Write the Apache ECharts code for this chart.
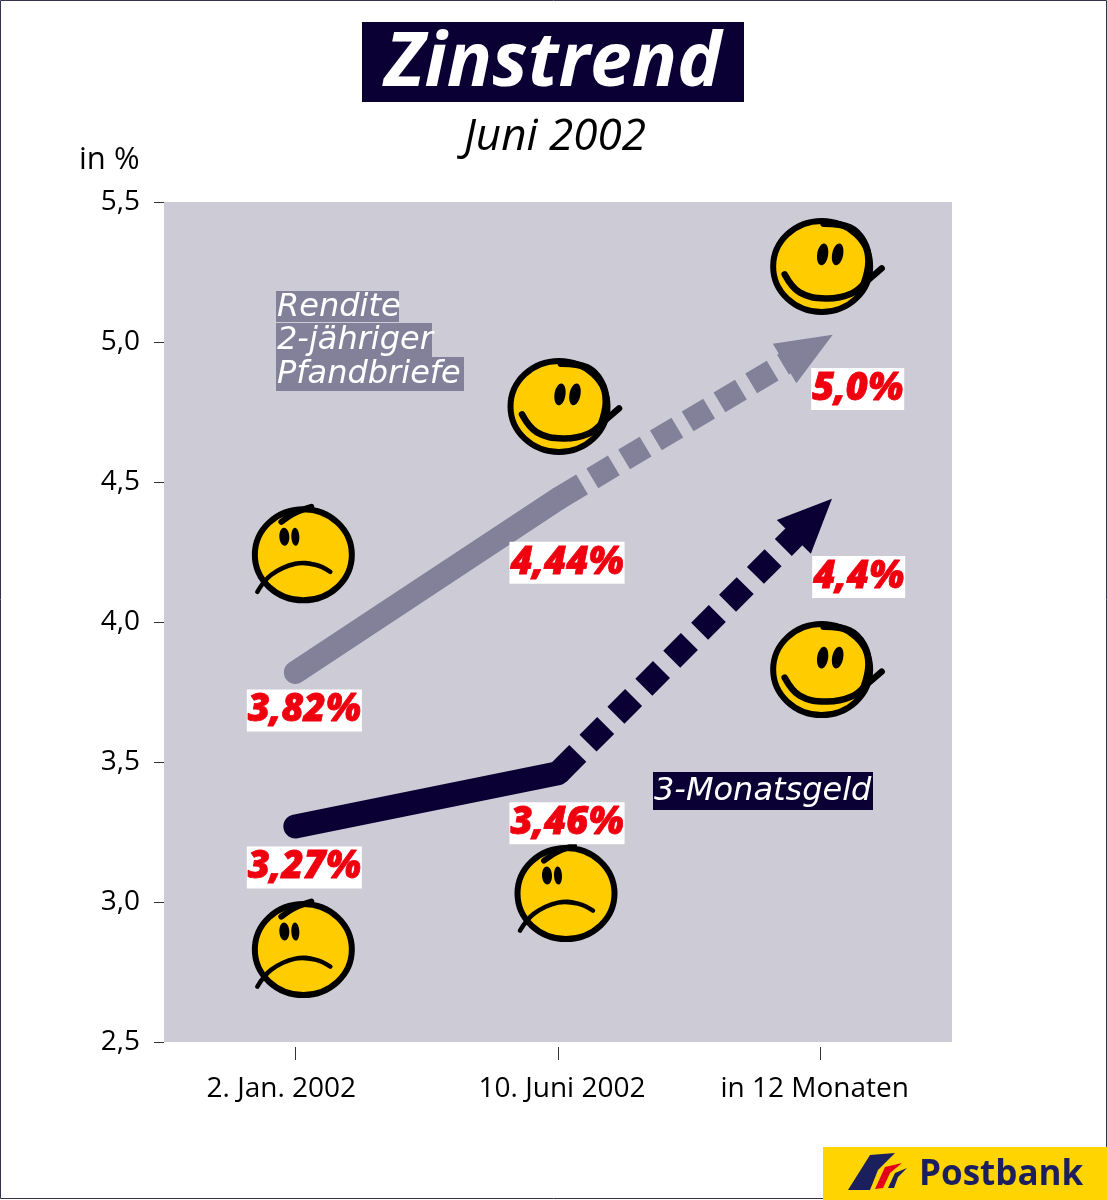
<!DOCTYPE html>
<html><head><meta charset="utf-8">
<style>html,body{margin:0;padding:0;background:#fff}#c{width:1107px;height:1200px}</style>
<script src="https://cdn.jsdelivr.net/npm/echarts@6/dist/echarts.min.js"></script>
</head><body><div id="c"></div>
<script>
const categories = ['2. Jan. 2002', '10. Juni 2002', 'in 12 Monaten'];
const pfandbriefe = [3.82, 4.44, 5.0];
const geld = [3.27, 3.46, 4.4];
const pfandLabels = ['3,82%', '4,44%', '5,0%'];
const geldLabels = ['3,27%', '3,46%', '4,4%'];
const smileyPoints = [[0, 4.24], [1, 4.77], [2, 5.27], [0, 2.83], [1, 3.03], [2, 3.83]];
const smileyMoods = ['sad', 'happy', 'happy', 'sad', 'sad', 'happy'];
const yTicks = [2.5, 3.0, 3.5, 4.0, 4.5, 5.0, 5.5];

const DARK = '#0A0033', GREY = '#83819A', RED = '#F0000F', YEL = '#FFCC00', BG = '#CCCBD6';
const FONT = '"Open Sans", "Noto Sans", sans-serif';

function arrowSeries(name, vals, color, width, dash, gap, headLen, headHalf, tipExt) {
  return {
    name, type: 'custom', coordinateSystem: 'cartesian2d', z: 4,
    data: vals.map((v, i) => [i, v]),
    renderItem(params, api) {
      if (params.dataIndex !== 2) return null;
      const a = api.coord([1, vals[1]]), b = api.coord([2, vals[2]]);
      const dx = b[0] - a[0], dy = b[1] - a[1], L = Math.hypot(dx, dy);
      const ux = dx / L, uy = dy / L;
      const at = d => [a[0] + ux * d, a[1] + uy * d];
      const solidEnd = 28, total = L + tipExt, base = total - headLen;
      const perp = (p, s) => [p[0] - uy * s, p[1] + ux * s];
      const bp = at(base), neck = at(base + 5);
      return { type: 'group', children: [
        { type: 'polyline', shape: { points: [a, at(solidEnd)] }, style: { stroke: color, lineWidth: width, fill: null } },
        { type: 'polyline', shape: { points: [at(solidEnd + gap), neck] },
          style: { stroke: color, lineWidth: width, fill: null, lineDash: [dash, gap] } },
        { type: 'polygon', shape: { points: [at(total), perp(bp, headHalf), perp(bp, -headHalf)] }, style: { fill: color } }
      ] };
    }
  };
}

function labelSeries(name, vals, labels, offs) {
  return {
    name, type: 'custom', coordinateSystem: 'cartesian2d', z: 6,
    data: vals.map((v, i) => [i, v]),
    renderItem(params, api) {
      const i = params.dataIndex;
      const p = api.coord([api.value(0), api.value(1)]);
      return { type: 'text', x: p[0] + offs[i][0], y: p[1] + offs[i][1], style: {
        text: labels[i], fill: RED, font: 'italic 800 38px ' + FONT,
        stroke: RED, lineWidth: 0.8, align: 'center', verticalAlign: 'middle',
        backgroundColor: '#fff', padding: [3, 1, 1, 1]
      } };
    }
  };
}

function smiley(params, api) {
  const p = api.coord([api.value(0), api.value(1)]);
  const mood = smileyMoods[params.dataIndex];
  const line = (pts, w) => ({ type: 'polyline', shape: { points: pts, smooth: 0.4 },
    style: { stroke: '#000', lineWidth: w, fill: null, lineCap: 'round' } });
  const eye = (x, y, rx, ry, rot) => ({ type: 'ellipse', x, y, rotation: rot, shape: { cx: 0, cy: 0, rx, ry }, style: { fill: '#000' } });
  const face = { type: 'ellipse', shape: { cx: 0, cy: 0, rx: 48.5, ry: 45.5 }, style: { fill: YEL, stroke: '#000', lineWidth: 6 } };
  const kids = mood === 'sad' ? [
    face,
    eye(-19, -18, 5, 9, 0.05), eye(-8, -18, 4, 9, 0.05),
    line([[-46, 37], [-32, 20], [-8, 9], [12, 10], [27, 17]], 4.5),
    line([[-22, -33], [-8, -42], [8, -48]], 6)
  ] : [
    face,
    eye(1, -12, 5.5, 11, -0.15), eye(16, -12, 5.5, 11, -0.2),
    line([[-37, 8], [-22, 26], [4, 32], [30, 27], [46, 14], [60, 2]], 6.5),
    line([[2, -43], [28, -39], [42, -25], [47, -5], [42, 18]], 7)
  ];
  return { type: 'group', x: p[0] + (mood === 'sad' ? 8 : 1), y: p[1], children: kids };
}

function boxText(text, x, y, w, h, bg, font, fill, cx, dy) {
  return [
    { type: 'rect', shape: { x, y, width: w, height: h }, style: { fill: bg }, z: 10 },
    { type: 'text', x: cx === undefined ? x + 1 : cx, y: y + h / 2 + (dy || 0), z: 11,
      style: { text, font, fill, align: cx === undefined ? 'left' : 'center', verticalAlign: 'middle' } }
  ];
}

const LEG = 'italic 400 32px "DejaVu Sans", sans-serif';
const xPads = { '2. Jan. 2002': [0, 28, 0, 0], '10. Juni 2002': [0, 0, 0, 8], 'in 12 Monaten': [0, 12, 0, 0] };
const chart = echarts.init(document.getElementById('c'), null, { renderer: 'canvas' });
chart.setOption({
  animation: false,
  backgroundColor: '#fff',
  grid: { left: 164, top: 202, width: 788, height: 840, show: true, backgroundColor: BG, borderWidth: 0 },
  xAxis: {
    type: 'category', data: categories, offset: 5,
    axisLine: { show: false },
    axisTick: { show: true, alignWithLabel: true, interval: 0, length: 13, lineStyle: { color: '#333', width: 1 } },
    axisLabel: { color: '#000', fontFamily: FONT, fontSize: 28, margin: 28, interval: 0, hideOverlap: false,
      formatter: v => '{' + ['a', 'b', 'c'][categories.indexOf(v)] + '|' + v + '}',
      rich: {
        a: { fontFamily: FONT, fontSize: 28, color: '#000', padding: xPads[categories[0]] },
        b: { fontFamily: FONT, fontSize: 28, color: '#000', padding: xPads[categories[1]] },
        c: { fontFamily: FONT, fontSize: 28, color: '#000', padding: xPads[categories[2]] }
      } },
    splitLine: { show: false }
  },
  yAxis: {
    type: 'value', min: 2.5, max: 5.5, interval: 0.5,
    axisLine: { show: false },
    axisTick: { show: true, length: 10, lineStyle: { color: '#333', width: 1 } },
    axisLabel: { color: '#000', fontFamily: FONT, fontSize: 28, margin: 24, padding: [6, 0, 0, 0],
      formatter: v => yTicks.includes(v) ? v.toFixed(1).replace('.', ',') : '' },
    splitLine: { show: false }
  },
  series: [
    { name: 'Rendite 2-jähriger Pfandbriefe', type: 'line', z: 3, symbol: 'none',
      data: [pfandbriefe[0], pfandbriefe[1], null],
      lineStyle: { color: GREY, width: 23, cap: 'round', join: 'round' } },
    { name: '3-Monatsgeld', type: 'line', z: 3, symbol: 'none',
      data: [geld[0], geld[1], null],
      lineStyle: { color: DARK, width: 24, cap: 'round', join: 'round' } },
    arrowSeries('Pfandbriefe Prognose', pfandbriefe, GREY, 23, 25, 12, 56, 23, 14),
    arrowSeries('3-Monatsgeld Prognose', geld, DARK, 24, 25, 14.5, 54, 24, 16),
    labelSeries('Pfandbriefe Werte', pfandbriefe, pfandLabels, [[9, 38], [9, 64], [37, 47]]),
    labelSeries('3-Monatsgeld Werte', geld, geldLabels, [[9, 41], [9, 50], [38, 67]]),
    { name: 'Smileys', type: 'custom', coordinateSystem: 'cartesian2d', z: 5,
      data: smileyPoints, renderItem: smiley }
  ],
  graphic: { elements: [
    { type: 'rect', shape: { x: 0.5, y: 0.5, width: 1106, height: 1198 }, style: { fill: null, stroke: '#33334D', lineWidth: 1 }, z: 1 },
    ...boxText('Zinstrend', 362, 22, 382, 80, DARK, 'italic 700 75px ' + FONT, '#fff', 553, 3),
    { type: 'text', x: 555, y: 137, z: 11, style: { text: 'Juni 2002', font: 'italic 400 44px ' + FONT, fill: '#000', align: 'center', verticalAlign: 'middle' } },
    { type: 'text', x: 79, y: 160, z: 11, style: { text: 'in %', font: '400 31px ' + FONT, fill: '#000', align: 'left', verticalAlign: 'middle' } },
    ...boxText('Rendite', 276, 291, 123, 31, GREY, LEG, '#fff', undefined, 1),
    ...boxText('2-jähriger', 276, 323, 156, 34, GREY, LEG, '#fff', undefined, 1),
    ...boxText('Pfandbriefe', 276, 357, 188, 34, GREY, LEG, '#fff', undefined, 1),
    ...boxText('3-Monatsgeld', 653, 772, 220, 38, DARK, LEG, '#fff', undefined, 1),
    { type: 'rect', shape: { x: 823, y: 1147, width: 284, height: 53 }, style: { fill: '#FFD400' }, z: 10 },
    { type: 'polygon', shape: { points: [[848, 1190], [870, 1155], [895, 1153], [878, 1170], [870, 1190]] }, style: { fill: '#1B1F5E' }, z: 11 },
    { type: 'polygon', shape: { points: [[875, 1189], [885, 1167], [902, 1163], [890, 1173], [883, 1188]] }, style: { fill: '#E2001A' }, z: 11 },
    { type: 'polygon', shape: { points: [[888, 1188], [895, 1173], [907, 1168], [898, 1177], [894, 1188]] }, style: { fill: '#1B1F5E' }, z: 11 },
    { type: 'text', x: 919, y: 1175, z: 11, style: { text: 'Postbank', font: '700 35px ' + FONT, fill: '#1B1F5E', align: 'left', verticalAlign: 'middle' } }
  ] }
});
</script></body></html>
